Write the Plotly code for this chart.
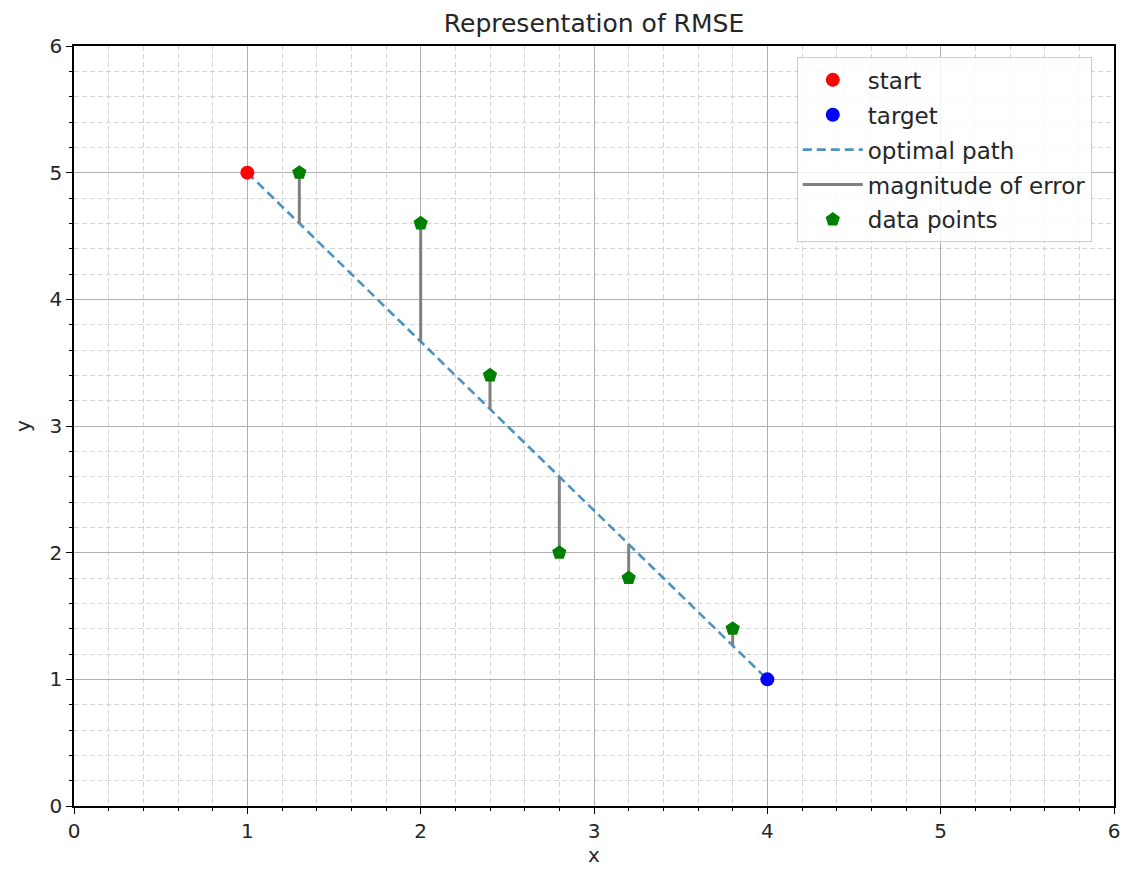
import plotly.graph_objects as go

start = (1.0, 5.0)
target = (4.0, 1.0)
data_x = [1.3, 2.0, 2.4, 2.8, 3.2, 3.8]
data_y = [5.0, 4.6, 3.4, 2.0, 1.8, 1.4]

slope = (target[1] - start[1]) / (target[0] - start[0])
def path_y(x):
    return start[1] + slope * (x - start[0])

err_x, err_y = [], []
for x, y in zip(data_x, data_y):
    err_x += [x, x, None]
    err_y += [y, path_y(x), None]

FONT = "DejaVu Sans"
TXT = "#262626"
fig = go.Figure()
fig.add_trace(go.Scatter(x=[start[0], target[0]], y=[start[1], target[1]], mode="lines",
                         name="optimal path", line=dict(color="rgba(31,119,180,0.8)", width=2.6, dash="9px,5px"),
                         legendrank=3, legendgroup="c"))
fig.add_trace(go.Scatter(x=err_x, y=err_y, mode="lines", name="magnitude of error",
                         line=dict(color="gray", width=3), legendrank=4, legendgroup="d"))
fig.add_trace(go.Scatter(x=[start[0]], y=[start[1]], mode="markers", name="start",
                         marker=dict(color="red", size=14), legendrank=1, legendgroup="a"))
fig.add_trace(go.Scatter(x=[target[0]], y=[target[1]], mode="markers", name="target",
                         marker=dict(color="blue", size=14), legendrank=2, legendgroup="b"))
fig.add_trace(go.Scatter(x=data_x, y=data_y, mode="markers", name="data points",
                         marker=dict(color="green", size=15, symbol="pentagon"), legendrank=5, legendgroup="e"))

axis_common = dict(
    range=[0, 6], dtick=1, tick0=0, showline=True, linecolor="black", linewidth=1.5,
    mirror=True, ticks="outside", ticklen=6, tickwidth=1.2, tickcolor="black",
    showgrid=True, gridcolor="#b0b0b0", gridwidth=1.4, zeroline=False, automargin=True,
    tickfont=dict(family=FONT, size=20, color=TXT),
    minor=dict(dtick=0.2, showgrid=True, gridcolor="#d4d4d4", griddash="5px,3px", gridwidth=1,
               ticks="outside", ticklen=3.5, tickcolor="black", tickwidth=1),
)
fig.update_xaxes(**axis_common, title=dict(text="x", font=dict(family=FONT, size=20, color=TXT), standoff=10))
fig.update_yaxes(**axis_common, title=dict(text="y", font=dict(family=FONT, size=20, color=TXT), standoff=14))

W, H = 1113, 859
fig.update_layout(
    width=W, height=H,
    margin=dict(l=66, r=7, t=38, b=61, autoexpand=False),
    plot_bgcolor="white", paper_bgcolor="white",
    title=dict(text="Representation of RMSE", x=0.5, xref="paper", xanchor="center",
               y=1 - 15 / H, yanchor="middle", font=dict(family=FONT, size=25, color=TXT),
               automargin=False),
    legend=dict(x=0.695, y=0.985, xanchor="left", yanchor="top", traceorder="grouped",
                bgcolor="rgba(255,255,255,0.85)", bordercolor="#cccccc", borderwidth=1,
                font=dict(family=FONT, size=23, color=TXT), tracegroupgap=2,
                itemwidth=60),
    showlegend=True,
)
fig.write_html("out.html")
